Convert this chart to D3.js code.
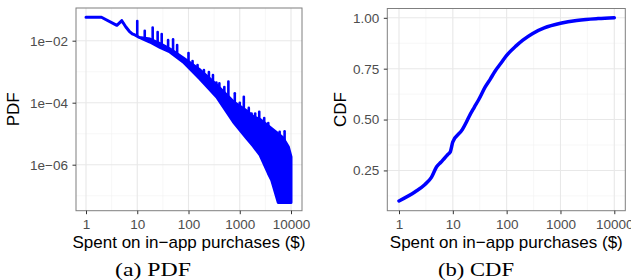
<script src="https://d3js.org/d3.v7.min.js"></script>
<style>
    body { margin: 0; background: #fff; }
    .tick text { fill: #4d4d4d; }
</style>
<svg id="fig" width=631 height=280></svg>
<script>
    // PDF: dense band of points, lower and upper edge
    var pdfX    = [1, 2, 4, 5, 6, 7, 8, 9, 11, 17.7, 27.8, 43.5, 79, 168, 355, 748, 1368, 1838, 2483, 3605, 4200, 5650, 6980, 8850, 10000];
    var pdfLow  = [0.057, 0.057, 0.0314, 0.0442, 0.0277, 0.0201, 0.0165, 0.0153, 0.0127, 0.00908, 0.00604, 0.00432, 0.00206, 0.000582, 0.000153, 2.44e-5, 7.1e-6, 4.0e-6, 2.06e-6, 5.3e-7, 3.2e-7, 6e-8, 6e-8, 6e-8, 6e-8];
    var pdfHigh = [0.057, 0.057, 0.0314, 0.0442, 0.0277, 0.0201, 0.0165, 0.0153, 0.0127, 0.01135, 0.00812, 0.0054, 0.00277, 0.00113, 0.000373, 1.08e-4, 5.4e-5, 3.53e-5, 2.87e-5, 1.77e-5, 1.46e-5, 9.9e-6, 7.3e-6, 3.8e-6, 1.8e-6];
    // spikes at round amounts
    var spikeX    = [10, 14, 20, 25, 30, 40, 50, 60, 100, 120, 150, 200, 250, 300, 350, 400, 500, 600, 800, 1000, 1200, 1500, 1700, 2000, 2400, 3000, 3600, 6000, 7500];
    var spikeBase = [0.0145, 0.0118, 0.0105, 0.0088, 0.0075, 0.0058, 0.0048, 0.0038, 0.0023, 0.0018, 0.0012, 0.00081, 0.00063, 0.00052, 0.00037, 0.0003, 0.00022, 0.000165, 0.0001, 7.5e-5, 6.3e-5, 4.8e-5, 4e-5, 3.3e-5, 2.9e-5, 2.4e-5, 1.8e-5, 9e-6, 6e-6];
    var spikeTop  = [0.043, 0.021, 0.0267, 0.0191, 0.0165, 0.0105, 0.011, 0.0073, 0.004, 0.0022, 0.00164, 0.00113, 0.00098, 0.00078, 0.00045, 0.00042, 0.00032, 0.00048, 0.0002, 0.0001, 0.000156, 6.8e-5, 4.5e-5, 4.5e-5, 5.1e-5, 3.2e-5, 2.2e-5, 1.16e-5, 1.2e-5];

    // CDF
    var cdfX = [1, 2, 3, 4, 5, 6, 7, 8, 9, 10, 15, 18, 20, 25, 30, 40, 50, 60, 80, 100, 150, 200, 300, 500, 1000, 2000, 3000, 5000, 10000];
    var cdfY = [0.10, 0.145, 0.18, 0.216, 0.268, 0.29, 0.31, 0.327, 0.342, 0.39, 0.45, 0.489, 0.514, 0.56, 0.596, 0.66, 0.70, 0.735, 0.78, 0.815, 0.862, 0.89, 0.922, 0.95, 0.973, 0.987, 0.992, 0.996, 1.0];

    var xTicks = [1, 10, 100, 1000, 10000];
    var xMinor = [3.1623, 31.623, 316.23, 3162.3];
    var pdfYTicks = [1e-6, 1e-4, 1e-2];
    var pdfYLabels = ["1e\u221206", "1e\u221204", "1e\u221202"];
    var pdfYMinor = [1e-7, 1e-5, 1e-3];
    var cdfYTicks = [0.25, 0.5, 0.75, 1.0];
    var cdfYMinor = [0.125, 0.375, 0.625, 0.875];

    var xTitle = "Spent on in\u2212app purchases ($)";
    var sans = "'Liberation Sans', Arial, sans-serif";
    var blue = "#0000ff";

    var svg = d3.select("#fig");

    function panel(box, x, y, xMinorV, yMajorV, yMinorV) {
        var g = svg.append("g");
        g.append("rect").attr("x", box.l).attr("y", box.t)
            .attr("width", box.r - box.l).attr("height", box.b - box.t).attr("fill", "#fff");
        g.selectAll(".vmin").data(xMinorV).join("line")
            .attr("x1", d => x(d)).attr("x2", d => x(d)).attr("y1", box.t).attr("y2", box.b)
            .attr("stroke", "#f2f2f2").attr("stroke-width", 0.6);
        g.selectAll(".hmin").data(yMinorV).join("line")
            .attr("y1", d => y(d)).attr("y2", d => y(d)).attr("x1", box.l).attr("x2", box.r)
            .attr("stroke", "#f2f2f2").attr("stroke-width", 0.6);
        g.selectAll(".vmaj").data(xTicks).join("line")
            .attr("x1", d => x(d)).attr("x2", d => x(d)).attr("y1", box.t).attr("y2", box.b)
            .attr("stroke", "#e8e8e8").attr("stroke-width", 1.1);
        g.selectAll(".hmaj").data(yMajorV).join("line")
            .attr("y1", d => y(d)).attr("y2", d => y(d)).attr("x1", box.l).attr("x2", box.r)
            .attr("stroke", "#e8e8e8").attr("stroke-width", 1.1);
        return g;
    }

    function frame(box, x, y, yTicksV, yFmt, yTitle, yTitleX, caption) {
        svg.append("rect").attr("x", box.l).attr("y", box.t)
            .attr("width", box.r - box.l).attr("height", box.b - box.t)
            .attr("fill", "none").attr("stroke", "#7f7f7f").attr("stroke-width", 1);
        var xa = svg.append("g")
            .attr("transform", `translate(0,${box.b})`)
            .call(d3.axisBottom(x).tickValues(xTicks).tickFormat(d3.format("d")).tickSize(3.5).tickPadding(5));
        var ya = svg.append("g")
            .attr("transform", `translate(${box.l},0)`)
            .call(d3.axisLeft(y).tickValues(yTicksV).tickFormat(yFmt).tickSize(3.5).tickPadding(4.5));
        [xa, ya].forEach(function(a) {
            a.select(".domain").remove();
            a.selectAll(".tick line").attr("stroke", "#333");
            a.selectAll(".tick text").attr("font-family", sans).attr("font-size", 13.5).attr("fill", "#4d4d4d");
        });
        var cx = (box.l + box.r) / 2;
        svg.append("text").attr("x", cx).attr("y", 248)
            .attr("text-anchor", "middle").attr("font-family", sans).attr("font-size", 17)
            .text(xTitle);
        svg.append("text")
            .attr("transform", `translate(${yTitleX},${(box.t + box.b) / 2}) rotate(-90)`)
            .attr("text-anchor", "middle").attr("font-family", sans).attr("font-size", 17)
            .text(yTitle);
        svg.append("text").attr("x", caption.x).attr("y", 276)
            .attr("text-anchor", "middle").attr("font-family", "'Liberation Serif', 'Times New Roman', serif")
            .attr("font-size", 18).attr("textLength", 76).attr("lengthAdjust", "spacingAndGlyphs")
            .text(caption.text);
    }

    // ---- (a) PDF
    var boxA = {l: 76, r: 302, t: 8, b: 210.7};
    var xA = d3.scaleLog().domain([1, 10000]).range([86, 291]);
    var yA = d3.scaleLog().domain([1e-6, 1e-2]).range([164.7, 40.7]);
    panel(boxA, xA, yA, xMinor, pdfYTicks, pdfYMinor);

    var pdfData = pdfX.map((d, i) => ({x: d, lo: pdfLow[i], hi: pdfHigh[i]}));
    var band = d3.area()
        .x(d => xA(d.x))
        .y0(d => yA(d.lo))
        .y1(d => yA(d.hi));
    svg.append("path")
        .datum(pdfData)
        .attr("d", band)
        .attr("fill", blue)
        .attr("stroke", blue)
        .attr("stroke-width", 3)
        .attr("stroke-linejoin", "round");
    var spikes = spikeX.map((d, i) => ({x: d, b: spikeBase[i], t: spikeTop[i]}));
    svg.append("g")
        .selectAll("line")
        .data(spikes)
        .join("line")
        .attr("x1", d => xA(d.x)).attr("x2", d => xA(d.x))
        .attr("y1", d => yA(d.b)).attr("y2", d => yA(d.t))
        .attr("stroke", blue)
        .attr("stroke-width", 2.6)
        .attr("stroke-linecap", "round");
    frame(boxA, xA, yA, pdfYTicks, (d, i) => pdfYLabels[i], "PDF", 18.5, {x: 153, text: "(a) PDF"});

    // ---- (b) CDF
    var boxB = {l: 387.3, r: 625.3, t: 8.5, b: 210.7};
    var xB = d3.scaleLog().domain([1, 10000]).range([399, 614.3]);
    var yB = d3.scaleLinear().domain([0, 1]).range([221.3, 17.8]);
    panel(boxB, xB, yB, xMinor, cdfYTicks, cdfYMinor);
    var cdfLine = d3.line()
        .x((d, i) => xB(cdfX[i]))
        .y(d => yB(d))
        .curve(d3.curveMonotoneX);
    svg.append("path")
        .datum(cdfY)
        .attr("d", cdfLine)
        .attr("fill", "none")
        .attr("stroke", blue)
        .attr("stroke-width", 3.5)
        .attr("stroke-linecap", "round");
    frame(boxB, xB, yB, cdfYTicks, d3.format(".2f"), "CDF", 345.5, {x: 476, text: "(b) CDF"});
</script>
